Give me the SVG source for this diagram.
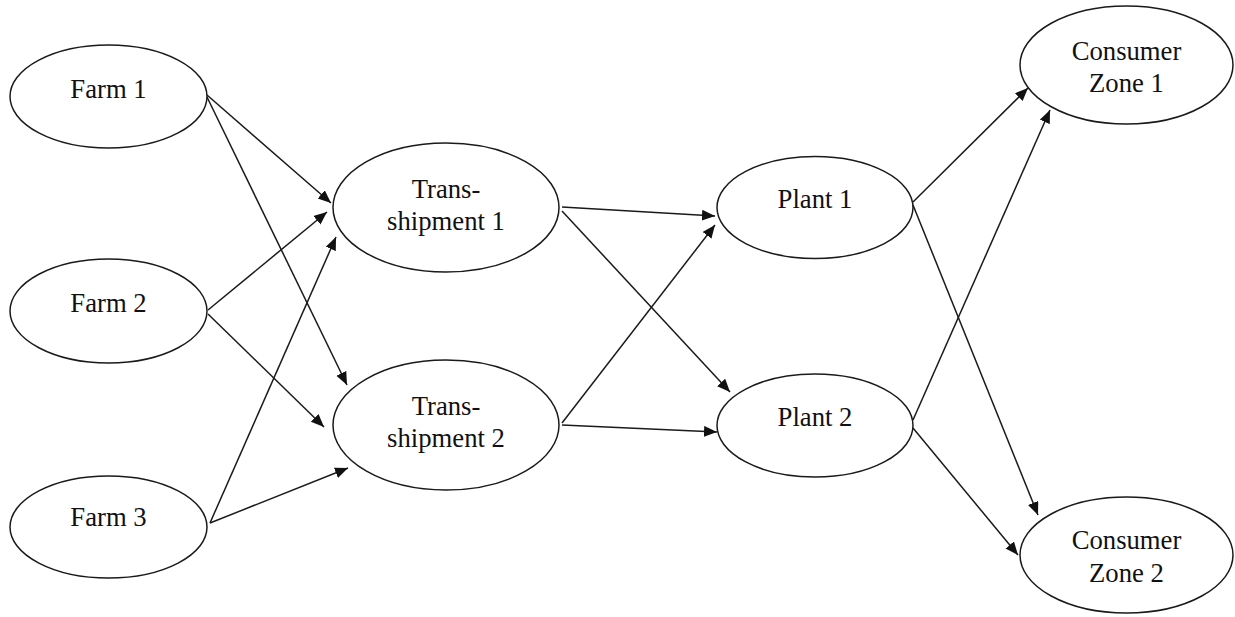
<svg xmlns="http://www.w3.org/2000/svg" width="1235" height="617" viewBox="0 0 1235 617">
  <style>
    .node ellipse { fill: #ffffff; stroke: #1a1a1a; stroke-width: 1.5; }
    .node text { font-family: "Liberation Serif", "Times New Roman", serif; font-size: 26.7px; fill: #111111; text-anchor: middle; }
    .edges line { stroke: #1a1a1a; stroke-width: 1.5; marker-end: url(#arrow); }
  </style>
  <defs>
    <marker id="arrow" markerUnits="userSpaceOnUse" markerWidth="14" markerHeight="12" refX="13" refY="5.5" orient="auto">
      <path d="M0,0 L13,5.5 L0,11 Z" fill="#111111"/>
    </marker>
  </defs>
  <rect width="1235" height="617" fill="#ffffff"/>

  <!-- connectors -->
  <g id="edges" class="edges">
    <line x1="207" y1="95" x2="331" y2="203"/>
    <line x1="207" y1="97" x2="347" y2="385"/>
    <line x1="208" y1="310" x2="327" y2="212"/>
    <line x1="208" y1="314" x2="324" y2="427"/>
    <line x1="210" y1="523" x2="336" y2="237"/>
    <line x1="210" y1="523" x2="348" y2="468"/>
    <line x1="562" y1="207" x2="715" y2="216"/>
    <line x1="562" y1="211" x2="730" y2="392"/>
    <line x1="562" y1="423" x2="715" y2="225"/>
    <line x1="562" y1="425" x2="717" y2="432"/>
    <line x1="913" y1="202" x2="1028" y2="88"/>
    <line x1="913" y1="205" x2="1038" y2="515"/>
    <line x1="913" y1="420" x2="1050" y2="110"/>
    <line x1="913" y1="428" x2="1018" y2="555"/>
  </g>

  <!-- farms -->
  <g id="farm1" class="node">
    <ellipse cx="108.5" cy="96.5" rx="98.5" ry="51.5"/>
    <text x="108.5" y="98">Farm 1</text>
  </g>
  <g id="farm2" class="node">
    <ellipse cx="108.5" cy="311" rx="98.5" ry="52"/>
    <text x="108.5" y="312">Farm 2</text>
  </g>
  <g id="farm3" class="node">
    <ellipse cx="108.5" cy="527" rx="98.5" ry="51"/>
    <text x="108.5" y="526">Farm 3</text>
  </g>

  <!-- trans-shipment points -->
  <g id="trans1" class="node">
    <ellipse cx="446" cy="207.5" rx="113" ry="64.5"/>
    <text x="446" y="198">Trans-</text>
    <text x="446" y="230">shipment 1</text>
  </g>
  <g id="trans2" class="node">
    <ellipse cx="446" cy="425" rx="113" ry="65"/>
    <text x="446" y="415">Trans-</text>
    <text x="446" y="447">shipment 2</text>
  </g>

  <!-- plants -->
  <g id="plant1" class="node">
    <ellipse cx="815" cy="207.5" rx="98" ry="51"/>
    <text x="815" y="208">Plant 1</text>
  </g>
  <g id="plant2" class="node">
    <ellipse cx="815" cy="425.5" rx="98" ry="51.5"/>
    <text x="815" y="426">Plant 2</text>
  </g>

  <!-- consumer zones -->
  <g id="zone1" class="node">
    <ellipse cx="1126.5" cy="65" rx="106.5" ry="59"/>
    <text x="1126.5" y="60">Consumer</text>
    <text x="1126.5" y="92">Zone 1</text>
  </g>
  <g id="zone2" class="node">
    <ellipse cx="1126.5" cy="555" rx="106.5" ry="58"/>
    <text x="1126.5" y="549">Consumer</text>
    <text x="1126.5" y="582">Zone 2</text>
  </g>
</svg>
